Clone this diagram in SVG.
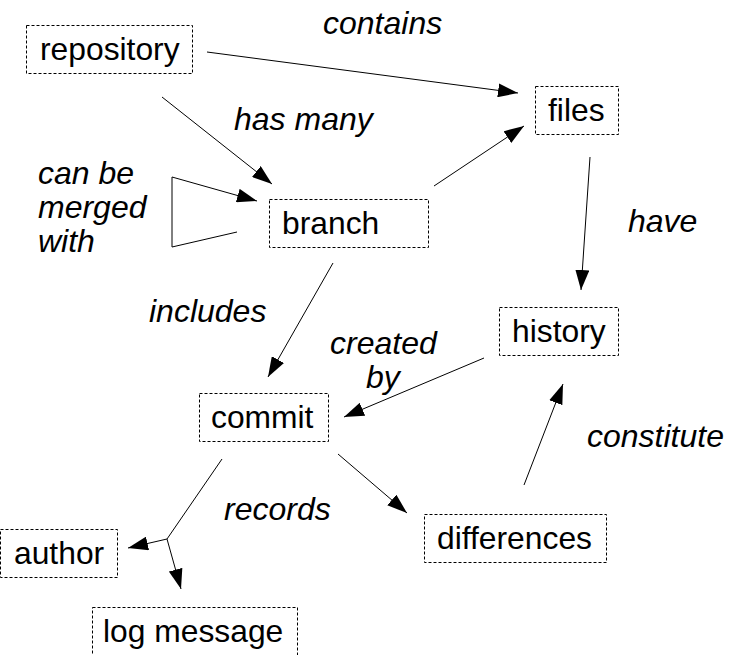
<svg xmlns="http://www.w3.org/2000/svg" width="736" height="655" viewBox="0 0 736 655">
<defs>
<marker id="ah" markerWidth="20" markerHeight="14" refX="20" refY="7" orient="auto" markerUnits="userSpaceOnUse"><path d="M0,0 L20,7 L0,14 z" fill="#000"/></marker>
<style>
.box{fill:#fff;stroke:#000;stroke-width:1;stroke-dasharray:3,2}
.nt{font-family:"Liberation Sans",Arial,sans-serif;font-size:31.8px;fill:#000}
.lb{font-family:"Liberation Sans",Arial,sans-serif;font-size:32px;font-style:italic;fill:#000}
.c{fill:none;stroke:#000;stroke-width:1}
.a{marker-end:url(#ah)}
</style>
</defs>
<rect width="736" height="655" fill="#fff"/>
<g id="connectors">
<line class="c a" x1="207" y1="52" x2="518" y2="93"/>
<line class="c a" x1="162" y1="97" x2="272" y2="184"/>
<polyline class="c a" points="237,232 172,247 172,177 257,201"/>
<line class="c a" x1="434" y1="186" x2="524" y2="126"/>
<line class="c a" x1="590" y1="157" x2="581" y2="290"/>
<line class="c a" x1="333" y1="263" x2="268" y2="377"/>
<line class="c a" x1="484" y1="358" x2="344" y2="417"/>
<line class="c a" x1="338" y1="454" x2="407" y2="513"/>
<line class="c a" x1="524" y1="485" x2="563" y2="384"/>
<line class="c" x1="222" y1="459" x2="167" y2="539"/>
<line class="c a" x1="167" y1="539" x2="128" y2="548"/>
<line class="c a" x1="167" y1="539" x2="181" y2="589"/>
</g>
<g id="labels">
<text class="lb" x="323" y="34">contains</text>
<text class="lb" x="234" y="130">has many</text>
<text class="lb" x="38" y="184">can be</text>
<text class="lb" x="38" y="218">merged</text>
<text class="lb" x="38" y="252">with</text>
<text class="lb" x="628" y="232">have</text>
<text class="lb" x="149" y="322">includes</text>
<text class="lb" x="330" y="354">created</text>
<text class="lb" x="366" y="388">by</text>
<text class="lb" x="587" y="447">constitute</text>
<text class="lb" x="224" y="520">records</text>
</g>
<g id="repository"><rect class="box" x="26.5" y="25.5" width="166" height="48"/><text class="nt" x="40" y="60">repository</text></g>
<g id="files"><rect class="box" x="535.5" y="86.5" width="83" height="48"/><text class="nt" x="548" y="121">files</text></g>
<g id="branch"><rect class="box" x="269.5" y="199.5" width="159" height="48"/><text class="nt" x="282" y="234">branch</text></g>
<g id="history"><rect class="box" x="499.5" y="307.5" width="119" height="48"/><text class="nt" x="512" y="342">history</text></g>
<g id="commit"><rect class="box" x="199.5" y="393.5" width="129" height="48"/><text class="nt" x="211" y="428">commit</text></g>
<g id="differences"><rect class="box" x="424.5" y="514.5" width="182" height="48"/><text class="nt" x="437" y="549">differences</text></g>
<g id="author"><rect class="box" x="0.5" y="529.5" width="117" height="48"/><text class="nt" x="14" y="564">author</text></g>
<g id="log_message"><rect class="box" x="92.5" y="607.5" width="205" height="48"/><text class="nt" x="103" y="642">log message</text></g>
</svg>
